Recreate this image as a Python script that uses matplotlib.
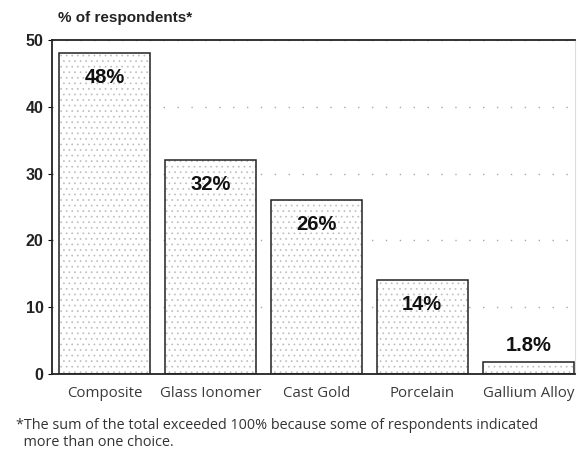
import numpy as np
import matplotlib.pyplot as plt

materials = ["Composite", "Glass Ionomer", "Cast Gold", "Porcelain", "Gallium Alloy"]
percent = [48, 32, 26, 14, 1.8]
value_labels = ["48%", "32%", "26%", "14%", "1.8%"]
yticks = [0, 10, 20, 30, 40, 50]

plt.rcParams['hatch.linewidth'] = 0.5

fig = plt.figure(figsize=(5.79, 4.53), dpi=100)
ax = fig.add_axes([0.0898, 0.1744, 0.903, 0.7373])

x = np.arange(len(materials))
w = 0.86

# dotted fill first, then the black outline on top
ax.bar(x, percent, width=w, color="white", hatch="...", edgecolor="#bdbdbd",
       linewidth=0, zorder=2)
ax.bar(x, percent, width=w, fill=False, edgecolor="#222222", linewidth=1.1, zorder=3)

for i, (v, lab) in enumerate(zip(percent, value_labels)):
    if v > 5:
        y = v - 3.6
    else:
        y = v + 2.4
    ax.text(i, y, lab, ha="center", va="center", fontsize=14.5,
            fontweight="bold", family="Liberation Sans", color="#111111", zorder=4)

ax.set_xlim(-0.495, 4.44)
ax.set_ylim(0, 50)
ax.set_yticks(yticks)
ax.set_yticklabels([str(t) for t in yticks], fontsize=11.5, fontweight="bold",
                   family="Liberation Sans", color="#222222")
ax.tick_params(axis="y", direction="out", length=3, pad=3)
ax.set_xticks(x)
ax.set_xticklabels(materials, fontsize=10.8, family="Open Sans", color="#3a3a3a")
ax.tick_params(axis="x", length=0, pad=8.5)

ax.yaxis.grid(True, linestyle=(0, (1, 9)), color="#a8a8a8", linewidth=1.0)
ax.set_axisbelow(True)

for s in ["left", "bottom", "top"]:
    ax.spines[s].set_linewidth(1.3)
    ax.spines[s].set_color("#222222")
ax.spines["right"].set_color("#dddddd")
ax.spines["right"].set_linewidth(0.8)

fig.text(0.100, 0.960, "% of respondents*", fontsize=11, fontweight="bold",
         family="Liberation Sans", color="#222222", ha="left", va="center")

fig.text(0.027, 0.042, "*The sum of the total exceeded 100% because some of respondents indicated\n"
         "  more than one choice.", fontsize=10.4, family="Open Sans",
         color="#333333", ha="left", va="center", linespacing=1.25)

fig.savefig("out.png", dpi=100)
